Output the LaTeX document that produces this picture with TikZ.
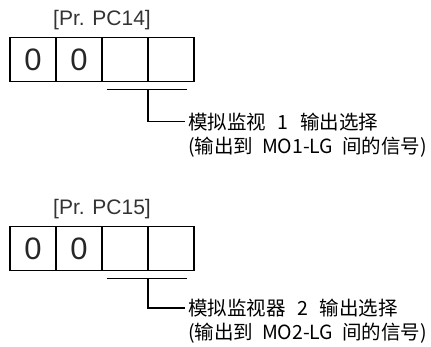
\documentclass[tikz,border=0pt]{standalone}
\usepackage{fontspec}
\setmainfont{Liberation Sans}
\newfontfamily\cjk{Noto Sans CJK SC}
\usetikzlibrary{positioning}
\newcommand{\gap}[1]{\hspace{#1em}}

\begin{document}
\begin{tikzpicture}[x=1pt, y=1pt,
  cell/.style={draw, line width=1.4pt, minimum width=46pt, minimum height=44pt,
    inner sep=0pt, outer sep=0pt, font=\fontsize{31}{31}\selectfont, text=black!85},
  parlabel/.style={font=\fontsize{21}{21}\selectfont, text=black!80, inner sep=0pt},
  note/.style={font=\cjk\fontsize{19.5}{19.5}\selectfont, anchor=west, inner xsep=3pt,
    inner ysep=0pt, minimum height=25pt},
  wire/.style={line width=1.4pt},
]
\useasboundingbox (0,0) rectangle (431,-347);
% PC14 row
\node[cell] (a1) at (33,-59.7) {0};
\node[cell, right=0pt of a1] (a2) {0};
\node[cell, right=0pt of a2] (a3) {};
\node[cell, right=0pt of a3] (a4) {};
\node[parlabel] (a-lab) at ([yshift=18pt]a2.north east) {[Pr. PC14]};
\coordinate (a-bl) at ([xshift=4.5pt, yshift=-7.6pt]a3.south west);
\coordinate (a-br) at ([xshift=-7.5pt, yshift=-7.6pt]a4.south east);
\coordinate (a-j) at ([yshift=-7.6pt]a3.south east);
\node[note] (a-t1) at (185,-121.7) {模拟监视\gap{0.6}1\gap{0.6}输出选择};
\node[note, below=0pt of a-t1.south west, anchor=north west] (a-t2) {(输出到\gap{0.45}MO1-LG\gap{0.45}间的信号)};
\draw[wire] (a-bl) -- (a-br);
\draw[wire] (a-j) |- (a-t1.west);
% PC15 row
\node[cell] (b1) at (33,-248.7) {0};
\node[cell, right=0pt of b1] (b2) {0};
\node[cell, right=0pt of b2] (b3) {};
\node[cell, right=0pt of b3] (b4) {};
\node[parlabel] (b-lab) at ([yshift=18pt]b2.north east) {[Pr. PC15]};
\coordinate (b-bl) at ([xshift=4.5pt, yshift=-7.6pt]b3.south west);
\coordinate (b-br) at ([xshift=-7.5pt, yshift=-7.6pt]b4.south east);
\coordinate (b-j) at ([yshift=-7.6pt]b3.south east);
\node[note] (b-t1) at (185,-308) {模拟监视器\gap{0.6}2\gap{0.6}输出选择};
\node[note, below=0pt of b-t1.south west, anchor=north west] (b-t2) {(输出到\gap{0.45}MO2-LG\gap{0.45}间的信号)};
\draw[wire] (b-bl) -- (b-br);
\draw[wire] (b-j) |- (b-t1.west);
\end{tikzpicture}
\end{document}
